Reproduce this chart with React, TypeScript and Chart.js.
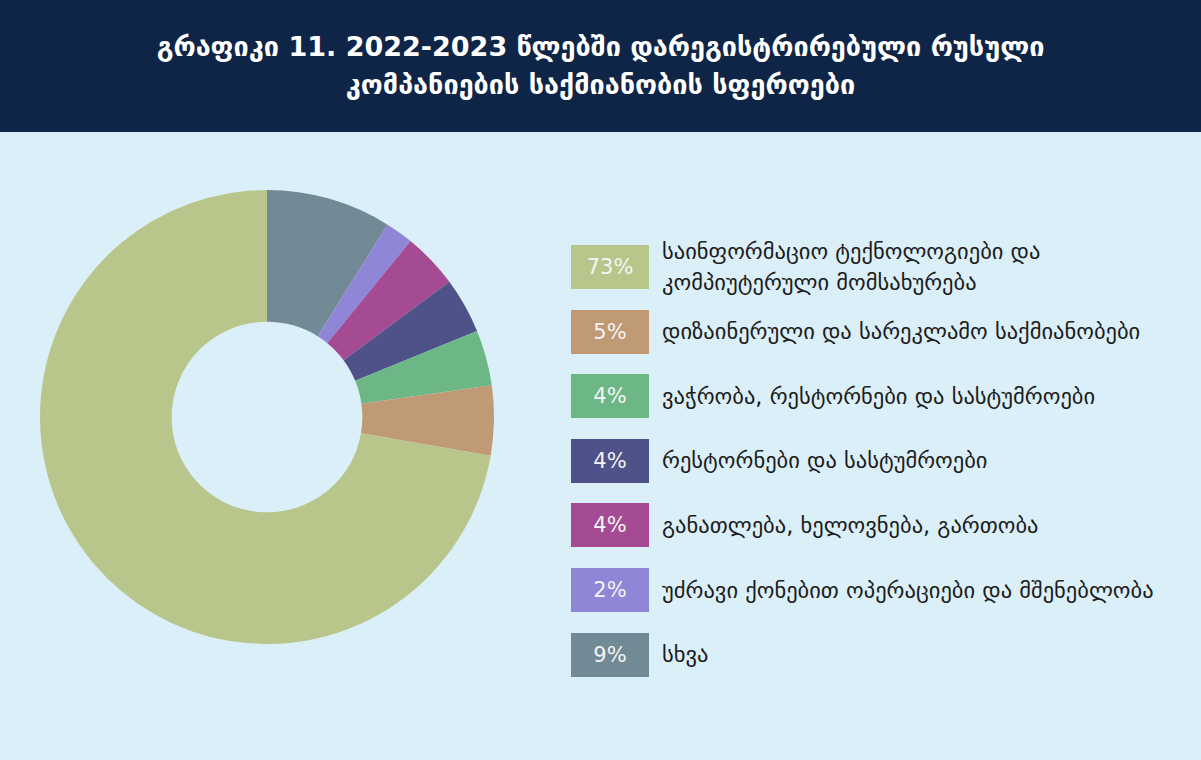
import { useEffect, useRef } from "react";
import { Chart, registerables } from "chart.js";
Chart.register(...registerables);

const titleLines = [
  "გრაფიკი 11. 2022-2023 წლებში დარეგისტრირებული რუსული",
  "კომპანიების საქმიანობის სფეროები",
];

// slice order follows the picture: clockwise from 12 o'clock
const sliceLabels = [
  "სხვა",
  "უძრავი ქონებით ოპერაციები და მშენებლობა",
  "განათლება, ხელოვნება, გართობა",
  "რესტორნები და სასტუმროები",
  "ვაჭრობა, რესტორნები და სასტუმროები",
  "დიზაინერული და სარეკლამო საქმიანობები",
  "საინფორმაციო ტექნოლოგიები და\nკომპიუტერული მომსახურება",
];
const sliceValues = [9, 2, 4, 4, 4, 5, 73];
const sliceColors = [
  "#728a96",
  "#8f86d8",
  "#a44b93",
  "#4e5289",
  "#6db786",
  "#c09a75",
  "#b8c68b",
];

// legend runs the other way round
const legendOrder = [6, 5, 4, 3, 2, 1, 0];

const App = () => {
  const canvasRef = useRef<HTMLCanvasElement>(null);
  const chartRef = useRef<Chart | null>(null);

  useEffect(() => {
    document.body.style.margin = "0";
    if (chartRef.current) {
      chartRef.current.destroy();
      chartRef.current = null;
    }
    chartRef.current = new Chart(canvasRef.current!, {
      type: "doughnut",
      data: {
        labels: sliceLabels,
        datasets: [
          {
            data: sliceValues,
            backgroundColor: sliceColors,
            borderWidth: 0,
          },
        ],
      },
      options: {
        animation: false,
        responsive: true,
        maintainAspectRatio: false,
        cutout: "42%",
        layout: { padding: 0 },
        plugins: {
          legend: { display: false },
          tooltip: { enabled: false },
        },
      },
    });
    return () => {
      if (chartRef.current) {
        chartRef.current.destroy();
        chartRef.current = null;
      }
    };
  }, []);

  return (
    <div
      style={{
        position: "absolute",
        left: 0,
        top: 0,
        width: 1201,
        height: 760,
        background: "#dbeff9",
        fontFamily: "'DejaVu Sans', sans-serif",
        overflow: "hidden",
      }}
    >
      <div
        style={{
          height: 132,
          background: "#0f2547",
          color: "#fff",
          display: "flex",
          flexDirection: "column",
          justifyContent: "center",
          alignItems: "center",
          fontWeight: "bold",
          fontSize: 27,
          lineHeight: "38px",
          whiteSpace: "nowrap",
        }}
      >
        {titleLines.map((t) => (
          <div key={t}>{t}</div>
        ))}
      </div>
      <div
        style={{
          position: "absolute",
          left: 40,
          top: 190,
          width: 454,
          height: 454,
        }}
      >
        <canvas ref={canvasRef} />
      </div>
      <div style={{ position: "absolute", left: 571, top: 245 }}>
        {legendOrder.map((i, k) => (
          <div
            key={i}
            style={{
              position: "absolute",
              top: k * 64.6,
              left: 0,
              height: 44,
              display: "flex",
              alignItems: "center",
              width: 620,
            }}
          >
            <div
              style={{
                width: 78,
                height: 44,
                flex: "none",
                background: sliceColors[i],
                color: "#f4f4f4",
                fontSize: 21,
                display: "flex",
                alignItems: "center",
                justifyContent: "center",
              }}
            >
              {sliceValues[i]}%
            </div>
            <div
              style={{
                marginLeft: 13,
                fontSize: 22.5,
                color: "#1c1c1c",
                lineHeight: "31px",
                whiteSpace: "pre",
              }}
            >
              {sliceLabels[i]}
            </div>
          </div>
        ))}
      </div>
    </div>
  );
};

export default App;
